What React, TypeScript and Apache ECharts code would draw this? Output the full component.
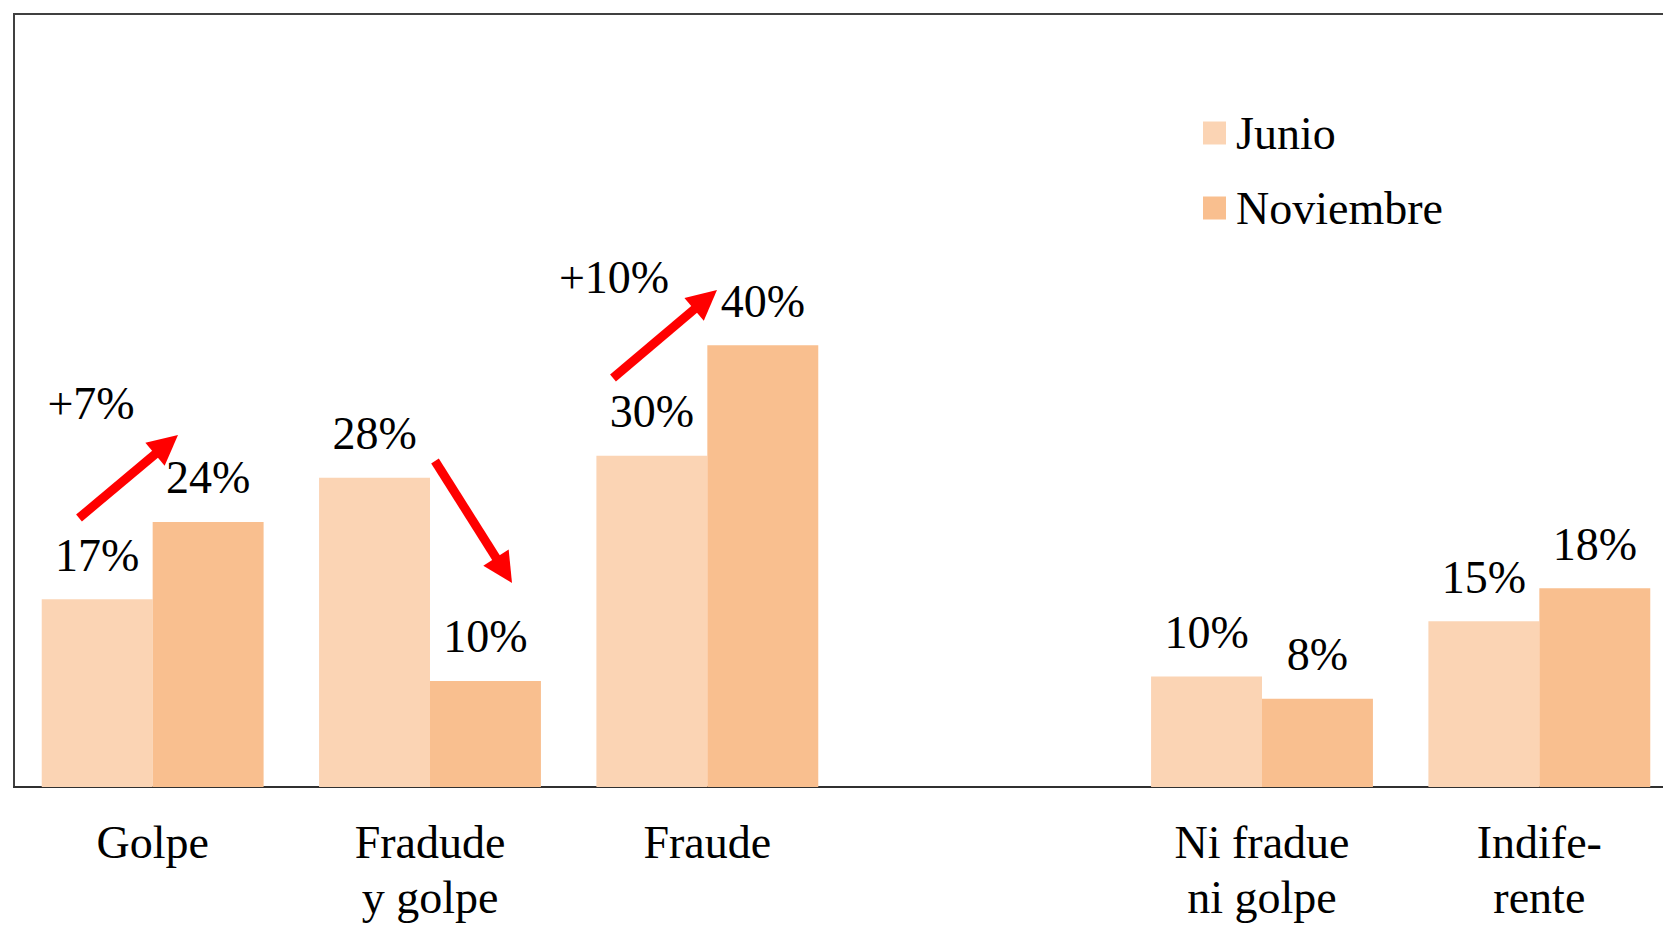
import React, { useEffect, useRef } from "react";
import * as echarts from "echarts";

const categories = ["Golpe", "Fradude\ny golpe", "Fraude", "", "Ni fradue\nni golpe", "Indife-\nrente"];
const seriesNames = ["Junio", "Noviembre"];
const junio = [17, 28, 30, null, 10, 15];
const noviembre = [24, 9.6, 40, null, 8, 18];
const deltaLabels = ["+7%", "+10%"];

const FONT = "'Liberation Serif', 'Times New Roman', serif";
const COL_JUN = "#FBD4B4";
const COL_NOV = "#F9BF8F";

function arrow(x1: number, y1: number, x2: number, y2: number) {
  const dx = x2 - x1;
  const dy = y2 - y1;
  const len = Math.sqrt(dx * dx + dy * dy);
  const ux = dx / len;
  const uy = dy / len;
  const L = 30;
  const hw = 15;
  const bx = x2 - ux * L;
  const by = y2 - uy * L;
  const px = -uy;
  const py = ux;
  return [
    {
      type: "line",
      shape: { x1, y1, x2: bx + ux * 2, y2: by + uy * 2 },
      style: { stroke: "#FF0000", lineWidth: 9 },
      z: 100,
    },
    {
      type: "polygon",
      shape: {
        points: [
          [x2, y2],
          [bx + px * hw, by + py * hw],
          [bx - px * hw, by - py * hw],
        ],
      },
      style: { fill: "#FF0000" },
      z: 100,
    },
  ];
}

export default function App() {
  const ref = useRef<HTMLDivElement>(null);
  useEffect(() => {
    if (!ref.current) return;
    document.documentElement.style.overflow = "hidden";
    document.body.style.overflow = "hidden";
    const chart = echarts.init(ref.current, null, { renderer: "svg" });
    const labelCfg = {
      show: true,
      position: "top",
      distance: 21,
      formatter: (p: any) => `${Math.round(p.value)}%`,
      fontSize: 46,
      fontFamily: FONT,
      color: "#000",
    };
    chart.setOption({
      animation: false,
      backgroundColor: "#fff",
      grid: {
        left: 14,
        top: 14,
        width: 1664,
        height: 775,
        show: true,
        borderColor: "#404040",
        borderWidth: 2,
        containLabel: false,
      },
      legend: {
        orient: "vertical",
        left: 1198,
        top: 105,
        itemWidth: 23,
        itemHeight: 23,
        itemGap: 29,
        icon: "rect",
        data: seriesNames,
        textStyle: { fontSize: 46, fontFamily: FONT, color: "#000", padding: [0, 0, 0, 5] },
      },
      xAxis: {
        type: "category",
        data: categories,
        axisLine: { show: true, lineStyle: { color: "#303030", width: 2 } },
        axisTick: { show: false },
        axisLabel: {
          interval: 0,
          fontSize: 46,
          lineHeight: 55,
          margin: 28,
          fontFamily: FONT,
          color: "#000",
        },
      },
      yAxis: {
        type: "value",
        min: 0,
        max: 70,
        axisLine: { show: false },
        axisTick: { show: false },
        axisLabel: { show: false },
        splitLine: { show: false },
      },
      series: [
        {
          name: seriesNames[0],
          type: "bar",
          data: junio,
          barGap: "0%",
          barCategoryGap: "20%",
          itemStyle: { color: COL_JUN },
          label: labelCfg,
        },
        {
          name: seriesNames[1],
          type: "bar",
          data: noviembre,
          barGap: "0%",
          barCategoryGap: "20%",
          itemStyle: { color: COL_NOV },
          label: labelCfg,
        },
      ],
      graphic: [
        ...arrow(79, 518, 178, 435),
        ...arrow(435, 461, 512, 583),
        ...arrow(613, 378, 717, 290),
        {
          type: "text",
          x: 91,
          y: 403,
          style: {
            text: deltaLabels[0],
            fontSize: 46,
            fontFamily: FONT,
            fill: "#000",
            align: "center",
            verticalAlign: "middle",
          },
          z: 100,
        },
        {
          type: "text",
          x: 614,
          y: 277,
          style: {
            text: deltaLabels[1],
            fontSize: 46,
            fontFamily: FONT,
            fill: "#000",
            align: "center",
            verticalAlign: "middle",
          },
          z: 100,
        },
      ],
    });
    return () => chart.dispose();
  }, []);
  return (
    <div style={{ position: "fixed", left: 0, top: 0, width: 1663, height: 925, overflow: "hidden", background: "#fff" }}>
      <div ref={ref} style={{ width: 1720, height: 925 }} />
    </div>
  );
}
